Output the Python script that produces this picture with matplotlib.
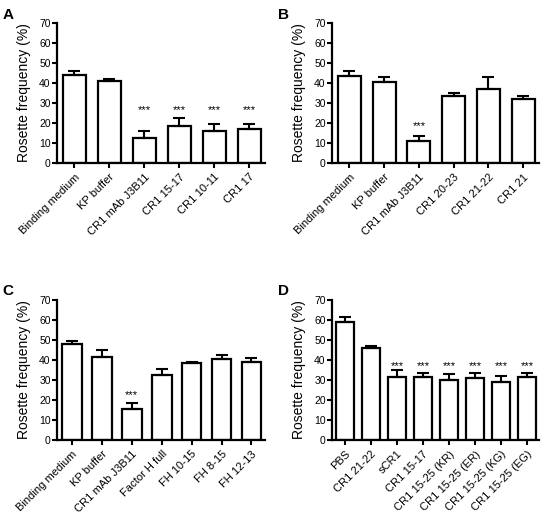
import numpy as np
import matplotlib
matplotlib.use("Agg")
import matplotlib.pyplot as plt

plt.rcParams['font.family'] = ['Liberation Sans', 'DejaVu Sans']

# panel data: labels, means, upper error, significance marks
labels_a = ["Binding medium", "KP buffer", "CR1 mAb J3B11", "CR1 15-17", "CR1 10-11", "CR1 17"]
mean_a = [44.0, 41.0, 12.3, 18.5, 15.8, 16.8]
err_a = [2.0, 1.0, 3.5, 4.0, 3.8, 2.6]
sig_a = [False, False, True, True, True, True]
star_y_a = 26.5

labels_b = ["Binding medium", "KP buffer", "CR1 mAb J3B11", "CR1 20-23", "CR1 21-22", "CR1 21"]
mean_b = [43.5, 40.7, 11.2, 33.7, 37.2, 32.2]
err_b = [2.5, 2.3, 2.5, 1.5, 5.6, 1.5]
sig_b = [False, False, True, False, False, False]
star_y_b = 18.5

labels_c = ["Binding medium", "KP buffer", "CR1 mAb J3B11", "Factor H full", "FH 10-15", "FH 8-15", "FH 12-13"]
mean_c = [48.0, 41.6, 15.3, 32.4, 38.5, 40.6, 39.2]
err_c = [1.6, 3.5, 3.0, 3.1, 0.4, 2.0, 2.0]
sig_c = [False, False, True, False, False, False, False]
star_y_c = 22.5

labels_d = ["PBS", "CR1 21-22", "sCR1", "CR1 15-17", "CR1 15-25 (KR)", "CR1 15-25 (ER)",
            "CR1 15-25 (KG)", "CR1 15-25 (EG)"]
mean_d = [58.8, 45.8, 31.5, 31.4, 30.0, 31.2, 29.2, 31.6]
err_d = [2.8, 1.1, 3.3, 2.2, 2.8, 2.5, 2.8, 1.8]
sig_d = [False, False, True, True, True, True, True, True]
star_y_d = 36.8

fig = plt.figure(figsize=(5.5, 5.16), dpi=100)


def panel(rect, labels, means, errs, sig, star_y):
    ax = fig.add_axes(rect)
    x = np.arange(len(labels))
    ax.bar(x, means, width=0.66, color='white', edgecolor='black', linewidth=1.6, zorder=2)
    ax.errorbar(x, means, yerr=[np.zeros(len(errs)), errs], fmt='none', ecolor='black',
                elinewidth=1.5, capsize=4.5, capthick=1.5, zorder=3)
    for xi, s in zip(x, sig):
        if s:
            ax.text(xi, star_y, "***", ha='center', va='center', fontsize=8)
    ax.set_xlim(-0.5, len(labels) - 0.55)
    ax.set_ylim(0, 70)
    ax.set_yticks(range(0, 71, 10))
    ax.set_xticks(x)
    ax.set_xticklabels(labels, rotation=45, ha='right', rotation_mode='anchor', fontsize=8)
    ax.tick_params(axis='y', labelsize=7.5, width=1.5, length=3.5, pad=1)
    ax.tick_params(axis='x', width=1.5, length=3.5, pad=3)
    for sp in ['top', 'right']:
        ax.spines[sp].set_visible(False)
    for sp in ['left', 'bottom']:
        ax.spines[sp].set_linewidth(1.6)
    ax.set_ylabel("Rosette frequency (%)", fontsize=10, labelpad=6)
    return ax


axA = panel([0.1036, 0.6841, 0.378, 0.2713], labels_a, mean_a, err_a, sig_a, star_y_a)
axB = panel([0.6036, 0.6841, 0.376, 0.2713], labels_b, mean_b, err_b, sig_b, star_y_b)
axC = panel([0.1036, 0.1473, 0.378, 0.2713], labels_c, mean_c, err_c, sig_c, star_y_c)
axD = panel([0.6036, 0.1473, 0.376, 0.2713], labels_d, mean_d, err_d, sig_d, star_y_d)

fig.text(0.005, 0.985, "A", fontsize=11, fontweight='bold', va='top')
fig.text(0.505, 0.985, "B", fontsize=11, fontweight='bold', va='top')
fig.text(0.005, 0.45, "C", fontsize=11, fontweight='bold', va='top')
fig.text(0.505, 0.45, "D", fontsize=11, fontweight='bold', va='top')

fig.savefig("out.png", dpi=100)
